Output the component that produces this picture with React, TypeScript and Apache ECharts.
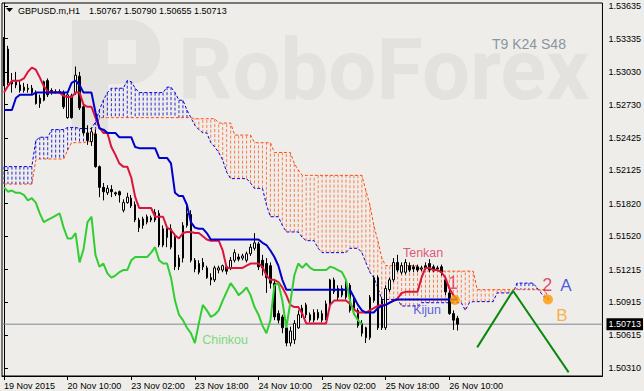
import React, { useEffect, useRef } from "react";
import * as echarts from "echarts";

const symbolTitle = "GBPUSD.m,H1";
const settingsText = "T9 K24 S48";
const xTickLabels = ["19 Nov 2015", "20 Nov 10:00", "23 Nov 02:00", "23 Nov 18:00", "24 Nov 10:00", "25 Nov 02:00", "25 Nov 18:00", "26 Nov 10:00"];
const yTickValues = [1.53635, 1.53335, 1.5303, 1.5273, 1.52425, 1.52125, 1.5182, 1.5152, 1.51215, 1.50915, 1.50615, 1.5031];

// [open, close, low, high]
const candles = [
  [1.5293, 1.5325, 1.5290, 1.5335], [1.5324, 1.5293, 1.5291, 1.5327], [1.5295, 1.5292, 1.5284, 1.5302], [1.5294, 1.5291, 1.5288, 1.5303],
  [1.5291, 1.5286, 1.5284, 1.5295], [1.5286, 1.5289, 1.5284, 1.5293], [1.5288, 1.5287, 1.5284, 1.5292], [1.5288, 1.5284, 1.5282, 1.5291],
  [1.5284, 1.5274, 1.5273, 1.5286], [1.5274, 1.5279, 1.5270, 1.5282], [1.5277, 1.5294, 1.5276, 1.5295], [1.5295, 1.5282, 1.5280, 1.5297],
  [1.5286, 1.5284, 1.5282, 1.5288], [1.5284, 1.5285, 1.5283, 1.5287], [1.5285, 1.5284, 1.5283, 1.5287], [1.5284, 1.5271, 1.5269, 1.5286],
  [1.5261, 1.5282, 1.5260, 1.5284], [1.5281, 1.5261, 1.5260, 1.5283], [1.5284, 1.5300, 1.5282, 1.5308], [1.5299, 1.5270, 1.5268, 1.5303],
  [1.5271, 1.5247, 1.5245, 1.5273], [1.5247, 1.5240, 1.5236, 1.5254], [1.5239, 1.5248, 1.5235, 1.5252], [1.5246, 1.5216, 1.5215, 1.5250],
  [1.5216, 1.5197, 1.5188, 1.5217], [1.5197, 1.5193, 1.5185, 1.5201], [1.5192, 1.5196, 1.5190, 1.5199], [1.5195, 1.5193, 1.5188, 1.5199],
  [1.5192, 1.5191, 1.5189, 1.5193], [1.5193, 1.5190, 1.5183, 1.5194], [1.5176, 1.5183, 1.5174, 1.5186], [1.5183, 1.5188, 1.5182, 1.5192],
  [1.5187, 1.5180, 1.5178, 1.5190], [1.5181, 1.5167, 1.5165, 1.5184], [1.5167, 1.5160, 1.5156, 1.5169], [1.5162, 1.5168, 1.5159, 1.5170],
  [1.5165, 1.5170, 1.5163, 1.5172], [1.5169, 1.5167, 1.5165, 1.5171], [1.5167, 1.5174, 1.5165, 1.5177], [1.5173, 1.5144, 1.5142, 1.5176],
  [1.5144, 1.5159, 1.5142, 1.5162], [1.5159, 1.5151, 1.5142, 1.5162], [1.5142, 1.5159, 1.5140, 1.5163], [1.5151, 1.5124, 1.5121, 1.5155],
  [1.5124, 1.5132, 1.5121, 1.5135], [1.5132, 1.5162, 1.5128, 1.5165], [1.5162, 1.5173, 1.5160, 1.5181], [1.5172, 1.5130, 1.5128, 1.5176],
  [1.5130, 1.5122, 1.5119, 1.5132], [1.5127, 1.5119, 1.5117, 1.5130], [1.5128, 1.5124, 1.5121, 1.5132], [1.5123, 1.5114, 1.5113, 1.5125],
  [1.5114, 1.5112, 1.5107, 1.5118], [1.5112, 1.5123, 1.5110, 1.5125], [1.5121, 1.5123, 1.5118, 1.5125], [1.5121, 1.5125, 1.5119, 1.5126],
  [1.5124, 1.5120, 1.5117, 1.5125], [1.5123, 1.5130, 1.5121, 1.5133], [1.5130, 1.5137, 1.5128, 1.5140], [1.5133, 1.5131, 1.5129, 1.5136],
  [1.5132, 1.5134, 1.5130, 1.5136], [1.5130, 1.5136, 1.5128, 1.5138], [1.5136, 1.5142, 1.5134, 1.5145], [1.5141, 1.5146, 1.5139, 1.5155],
  [1.5145, 1.5124, 1.5121, 1.5147], [1.5130, 1.5123, 1.5116, 1.5135], [1.5127, 1.5114, 1.5100, 1.5132], [1.5125, 1.5109, 1.5104, 1.5128],
  [1.5109, 1.5078, 1.5075, 1.5112], [1.5081, 1.5075, 1.5072, 1.5084], [1.5078, 1.5068, 1.5063, 1.5080], [1.5068, 1.5054, 1.5051, 1.5070],
  [1.5054, 1.5065, 1.5051, 1.5069], [1.5057, 1.5072, 1.5053, 1.5075], [1.5068, 1.5080, 1.5067, 1.5084], [1.5086, 1.5080, 1.5077, 1.5089],
  [1.5089, 1.5080, 1.5077, 1.5091], [1.5075, 1.5080, 1.5073, 1.5082], [1.5075, 1.5082, 1.5073, 1.5085], [1.5082, 1.5077, 1.5075, 1.5085],
  [1.5075, 1.5081, 1.5073, 1.5084], [1.5077, 1.5090, 1.5075, 1.5093], [1.5090, 1.5112, 1.5089, 1.5113], [1.5101, 1.5112, 1.5099, 1.5114],
  [1.5104, 1.5096, 1.5093, 1.5107], [1.5098, 1.5104, 1.5096, 1.5107], [1.5096, 1.5109, 1.5094, 1.5111], [1.5107, 1.5084, 1.5082, 1.5109],
  [1.5093, 1.5084, 1.5080, 1.5095], [1.5084, 1.5070, 1.5068, 1.5086], [1.5072, 1.5063, 1.5060, 1.5075], [1.5068, 1.5059, 1.5054, 1.5069],
  [1.5059, 1.5096, 1.5057, 1.5098], [1.5093, 1.5114, 1.5091, 1.5116], [1.5114, 1.5068, 1.5066, 1.5116], [1.5093, 1.5068, 1.5066, 1.5096],
  [1.5068, 1.5104, 1.5066, 1.5107], [1.5103, 1.5112, 1.5101, 1.5114], [1.5112, 1.5128, 1.5110, 1.5132], [1.5128, 1.5121, 1.5119, 1.5135],
  [1.5119, 1.5125, 1.5117, 1.5128], [1.5119, 1.5128, 1.5117, 1.5131], [1.5125, 1.5121, 1.5119, 1.5128], [1.5124, 1.5122, 1.5119, 1.5126],
  [1.5124, 1.5121, 1.5119, 1.5126], [1.5122, 1.5123, 1.5120, 1.5125], [1.5125, 1.5123, 1.5121, 1.5128], [1.5127, 1.5121, 1.5119, 1.5131],
  [1.5124, 1.5121, 1.5119, 1.5126], [1.5123, 1.5122, 1.5120, 1.5125], [1.5124, 1.5119, 1.5116, 1.5126], [1.5112, 1.5101, 1.5098, 1.5114],
  [1.5100, 1.5081, 1.5080, 1.5103], [1.5081, 1.5075, 1.5066, 1.5084], [1.50767, 1.50713, 1.50655, 1.5079],
];

const tenkan = [
  1.5284, 1.5290, 1.5295, 1.5295, 1.5295, 1.5297, 1.5303, 1.5307, 1.5305, 1.5298,
  1.5290, 1.5285, 1.5284, 1.5284, 1.5284, 1.5281, 1.5280, 1.5280, 1.5284, 1.5284,
  1.5273, 1.5271, 1.5271, 1.5261, 1.5252, 1.5247, 1.5247, 1.5234, 1.5227, 1.5219,
  1.5216, 1.5216, 1.5206, 1.5188, 1.5178, 1.5178, 1.5178, 1.5178, 1.5170, 1.5170,
  1.5170, 1.5160, 1.5158, 1.5153, 1.5150, 1.5155, 1.5156, 1.5156, 1.5155, 1.5155,
  1.5152, 1.5149, 1.5148, 1.5148, 1.5148, 1.5139, 1.5123, 1.5123, 1.5123, 1.5123,
  1.5123, 1.5125, 1.5127, 1.5127, 1.5127, 1.5124, 1.5116, 1.5112, 1.5112, 1.5110,
  1.5105, 1.5098, 1.5089, 1.5087, 1.5087, 1.5081, 1.5072, 1.5072, 1.5072, 1.5072,
  1.5072, 1.5072, 1.5089, 1.5093, 1.5093, 1.5093, 1.5093, 1.5090, 1.5085, 1.5082,
  1.5082, 1.5082, 1.5084, 1.5086, 1.5088, 1.5089, 1.5089, 1.5091, 1.5093, 1.5095,
  1.5100, 1.5101, 1.5101, 1.5101, 1.5101, 1.5114, 1.5123, 1.5123, 1.5121, 1.5121,
  1.5119, 1.5114, 1.5104, 1.5098, 1.5094,
];

const kijun = [
  1.5268, 1.5268, 1.5268, 1.5279, 1.5282, 1.5282, 1.5282, 1.5282, 1.5284, 1.5284,
  1.5284, 1.5284, 1.5284, 1.5284, 1.5284, 1.5284, 1.5284, 1.5293, 1.5295, 1.5291,
  1.5284, 1.5284, 1.5284, 1.5266, 1.5251, 1.5250, 1.5247, 1.5247, 1.5247, 1.5243,
  1.5243, 1.5243, 1.5243, 1.5234, 1.5233, 1.5233, 1.5233, 1.5233, 1.5233, 1.5224,
  1.5224, 1.5224, 1.5219, 1.5192, 1.5189, 1.5189, 1.5181, 1.5165, 1.5160, 1.5159,
  1.5159, 1.5155, 1.5149, 1.5149, 1.5149, 1.5149, 1.5149, 1.5149, 1.5149, 1.5149,
  1.5149, 1.5149, 1.5149, 1.5149, 1.5149, 1.5146, 1.5144, 1.5139, 1.5133, 1.5125,
  1.5112, 1.5103, 1.5103, 1.5103, 1.5103, 1.5103, 1.5103, 1.5103, 1.5103, 1.5103,
  1.5103, 1.5103, 1.5103, 1.5103, 1.5103, 1.5103, 1.5103, 1.5103, 1.5096, 1.5089,
  1.5084, 1.5082, 1.5082, 1.5082, 1.5086, 1.5088, 1.5089, 1.5091, 1.5093, 1.5094,
  1.5094, 1.5094, 1.5094, 1.5094, 1.5094, 1.5094, 1.5094, 1.5094, 1.5094, 1.5094,
  1.5094, 1.5094, 1.5094, 1.5094, 1.5094,
];

const chinkou = [
  1.5197, 1.5193, 1.5194, 1.5192, 1.5192, 1.5190, 1.5185, 1.5187, 1.5183, 1.5173,
  1.5165, 1.5167, 1.5169, 1.5171, 1.5173, 1.5160, 1.5150, 1.5150, 1.5155, 1.5128,
  1.5140, 1.5165, 1.5170, 1.5135, 1.5124, 1.5127, 1.5118, 1.5114, 1.5116, 1.5119,
  1.5121, 1.5121, 1.5130, 1.5133, 1.5133, 1.5133, 1.5133, 1.5137, 1.5142, 1.5130,
  1.5127, 1.5127, 1.5114, 1.5093, 1.5080, 1.5075, 1.5068, 1.5063, 1.5054, 1.5072,
  1.5089, 1.5084, 1.5078, 1.5080, 1.5084, 1.5093, 1.5101, 1.5109, 1.5104, 1.5098,
  1.5101, 1.5105, 1.5098, 1.5087, 1.5080, 1.5070, 1.5063, 1.5075, 1.5107, 1.5109,
  1.5093, 1.5068, 1.5091, 1.5116, 1.5127, 1.5123, 1.5127, 1.5123, 1.5121, 1.5121,
  1.5121, 1.5121, 1.5124, 1.5123, 1.5121, 1.5119, 1.5112, 1.5093, 1.5081, 1.5075,
  1.5071,
];

const senkouA = [
  1.5216, 1.5216, 1.5216, 1.5216, 1.5216, 1.5216, 1.5216, 1.5216, 1.5240, 1.5243,
  1.5243, 1.5243, 1.5250, 1.5250, 1.5250, 1.5250, 1.5252, 1.5252, 1.5252, 1.5251,
  1.5251, 1.5251, 1.5251, 1.5257, 1.5268, 1.5277, 1.5284, 1.5288, 1.5288, 1.5288,
  1.5288, 1.5295, 1.5294, 1.5288, 1.5284, 1.5284, 1.5284, 1.5284, 1.5284, 1.5284,
  1.5284, 1.5289, 1.5289, 1.5284, 1.5277, 1.5277, 1.5268, 1.5261, 1.5254, 1.5250,
  1.5247, 1.5247, 1.5238, 1.5234, 1.5229, 1.5222, 1.5211, 1.5205, 1.5205, 1.5205,
  1.5205, 1.5205, 1.5201, 1.5196, 1.5196, 1.5196, 1.5181, 1.5170, 1.5170, 1.5170,
  1.5162, 1.5156, 1.5156, 1.5156, 1.5156, 1.5151, 1.5148, 1.5148, 1.5148, 1.5141,
  1.5137, 1.5137, 1.5137, 1.5137, 1.5137, 1.5137, 1.5137, 1.5141, 1.5141, 1.5141,
  1.5137, 1.5128, 1.5119, 1.5114, 1.5105, 1.5094, 1.5094, 1.5094, 1.5094, 1.5094,
  1.5088, 1.5088, 1.5088, 1.5088, 1.5088, 1.5091, 1.5091, 1.5091, 1.5091, 1.5091,
  1.5091, 1.5091, 1.5091, 1.5091, 1.5091, 1.5091, 1.5084, 1.5091, 1.5092, 1.5092,
  1.5092, 1.5092, 1.5092, 1.5092, 1.5100, 1.5100, 1.5100, 1.5100, 1.5100, 1.5109,
  1.5109, 1.5109, 1.5109, 1.5109, 1.5105, 1.5100, 1.5096, 1.5094,
];

const senkouB = [
  1.5200, 1.5200, 1.5200, 1.5200, 1.5200, 1.5200, 1.5200, 1.5200, 1.5222, 1.5223,
  1.5223, 1.5223, 1.5223, 1.5223, 1.5223, 1.5223, 1.5231, 1.5238, 1.5238, 1.5238,
  1.5238, 1.5239, 1.5239, 1.5250, 1.5261, 1.5261, 1.5261, 1.5261, 1.5261, 1.5261,
  1.5261, 1.5261, 1.5261, 1.5261, 1.5261, 1.5261, 1.5261, 1.5261, 1.5261, 1.5261,
  1.5261, 1.5261, 1.5261, 1.5261, 1.5261, 1.5261, 1.5261, 1.5261, 1.5260, 1.5260,
  1.5260, 1.5260, 1.5260, 1.5260, 1.5256, 1.5256, 1.5256, 1.5256, 1.5245, 1.5245,
  1.5245, 1.5245, 1.5245, 1.5238, 1.5238, 1.5238, 1.5238, 1.5238, 1.5229, 1.5229,
  1.5229, 1.5229, 1.5229, 1.5219, 1.5213, 1.5208, 1.5208, 1.5208, 1.5208, 1.5208,
  1.5208, 1.5208, 1.5208, 1.5208, 1.5208, 1.5208, 1.5208, 1.5208, 1.5208, 1.5208,
  1.5208, 1.5194, 1.5181, 1.5162, 1.5148, 1.5132, 1.5125, 1.5125, 1.5125, 1.5125,
  1.5125, 1.5125, 1.5125, 1.5125, 1.5125, 1.5120, 1.5120, 1.5120, 1.5120, 1.5120,
  1.5120, 1.5120, 1.5120, 1.5120, 1.5120, 1.5120, 1.5120, 1.5120, 1.5120, 1.5103,
  1.5103, 1.5103, 1.5103, 1.5103, 1.5103, 1.5103, 1.5103, 1.5103, 1.5103, 1.5103,
  1.5103, 1.5103, 1.5103, 1.5103, 1.5103, 1.5103, 1.5103, 1.5094,
];

// forecast zig-zag: [bar index, price]
const forecastPath = [[119, 1.505], [128, 1.5102], [142, 1.5027]];
// tenkan/kijun cross marks: [bar index, price]
const crossMarks = [[113.4, 1.50935], [136.8, 1.5094]];
// text notes
const noteTexts = ["Tenkan", "Kijun", "Chinkou", "1", "2", "A", "B"];
const noteX = [105.4, 106.4, 55.6, 112.9, 136.6, 141.3, 140.3];
const noteY = [1.51365, 1.50843, 1.50567, 1.5109, 1.5107, 1.5107, 1.50797];
const noteColors = ["#DC2D5A", "#3434DE", "#5CD65C", "#E0305A", "#D81E50", "#2233DD", "#FFA020"];
const noteSizes = [12.5, 12.5, 12.5, 18, 18, 17, 17];

const categoryCount = 151;
const categories = Array.from({ length: categoryCount }, (_, i) => String(i));

const FONT = "'Liberation Sans', Arial, sans-serif";
const BG = "#EEEDEA";
const WM = "#E3E2DF";

function buildOption() {
  const last = candles[candles.length - 1];
  const lastClose = last[1];
  const tickShown = (i: number) => i % 16 === 0 && i / 16 < xTickLabels.length;
  const cloudData = senkouA.map((a, i) => [i, a, senkouB[i]]);
  return {
    animation: false,
    backgroundColor: "transparent",
    grid: { left: 2, right: 40, top: 3, bottom: 15, show: true, borderColor: "#000", borderWidth: 1, backgroundColor: "transparent" },
    xAxis: [
      {
        type: "category",
        data: categories,
        boundaryGap: true,
        axisLine: { show: true, lineStyle: { color: "#000", width: 1 } },
        axisTick: { show: true, interval: (i: number) => tickShown(i), alignWithLabel: true, length: 4, lineStyle: { color: "#000" } },
        axisLabel: {
          interval: (i: number) => tickShown(i),
          formatter: (_v: string, i: number) => xTickLabels[i / 16] ?? "",
          align: "left",
          color: "#000",
          fontSize: 9,
          fontFamily: FONT,
          margin: 5,
        },
        splitLine: { show: false },
      },
      { type: "value", min: -0.5, max: categoryCount - 0.5, show: false, gridIndex: 0 },
    ],
    yAxis: {
      type: "value",
      position: "right",
      min: 1.50237,
      max: 1.53663,
      splitLine: { show: false },
      axisLine: { show: true, lineStyle: { color: "#000", width: 1 } },
      axisTick: { show: true, length: 4, lineStyle: { color: "#000" }, customValues: yTickValues },
      axisLabel: { customValues: yTickValues, formatter: (v: number) => v.toFixed(5), color: "#000", fontSize: 9, fontFamily: FONT, margin: 6 },
    },
    graphic: [
      { type: "text", z: 0, x: 178, y: 112, style: { text: "RoboForex", fill: WM, fontSize: 85, fontWeight: "bold", fontFamily: "Roboto, sans-serif", verticalAlign: "bottom" } },
      { type: "rect", z: 0, shape: { x: 72, y: 20, width: 36, height: 110 }, style: { fill: WM } },
      { type: "rect", z: 0, shape: { x: 72, y: 20, width: 88, height: 64, r: [0, 30, 30, 0] }, style: { fill: WM } },
      { type: "rect", z: 0, shape: { x: 108, y: 40, width: 28, height: 24 }, style: { fill: BG } },
      { type: "polygon", z: 10, shape: { points: [[6, 8], [13, 8], [9.5, 12]] }, style: { fill: "#000" } },
      { type: "text", z: 10, x: 18, y: 11, style: { text: symbolTitle, fill: "#000", fontSize: 9, fontFamily: FONT, verticalAlign: "middle" } },
      {
        type: "text", z: 10, x: 89, y: 11,
        style: { text: [last[0], last[3], last[2], last[1]].map((v) => v.toFixed(5)).join(" "), fill: "#000", fontSize: 9, fontFamily: FONT, verticalAlign: "middle" },
      },
      { type: "text", z: 10, x: 492, y: 44, style: { text: settingsText, fill: "#8A95A2", fontSize: 14, fontFamily: FONT, verticalAlign: "middle" } },
    ],
    series: [
      {
        type: "custom",
        name: "cloud",
        z: 1,
        clip: true,
        data: cloudData,
        renderItem: (_p: any, api: any) => {
          const i = api.value(0);
          const a = api.value(1);
          const b = api.value(2);
          const pa = api.coord([i, a]);
          const pb = api.coord([i, b]);
          return {
            type: "line",
            shape: { x1: pa[0], y1: pa[1], x2: pb[0], y2: pb[1] },
            style: { stroke: a >= b ? "#2A2AD0" : "#FF7A45", lineWidth: 1, lineDash: [3, 2] },
          };
        },
      },
      { type: "line", name: "Senkou A", z: 2, data: senkouA, showSymbol: false, lineStyle: { color: "#0000DD", width: 1, type: [3, 2] } },
      { type: "line", name: "Senkou B", z: 2, data: senkouB, showSymbol: false, lineStyle: { color: "#FF4A10", width: 1, type: [3, 2] } },
      {
        type: "line", name: "Bid", z: 2, xAxisIndex: 1, showSymbol: false, silent: true,
        data: [[-0.5, lastClose], [categoryCount - 0.5, lastClose]],
        lineStyle: { color: "#7D8790", width: 1 },
        endLabel: {
          show: true, formatter: lastClose.toFixed(5), backgroundColor: "#000", color: "#fff",
          fontSize: 9, fontFamily: FONT, padding: [2, 2, 1, 2], distance: 4,
        },
      },
      {
        type: "candlestick",
        name: "GBPUSD",
        z: 3,
        barWidth: 2,
        data: candles,
        itemStyle: { color: "#FFFFFF", color0: "#000000", borderColor: "#000000", borderColor0: "#000000", borderWidth: 1 },
      },
      { type: "line", name: "Tenkan", z: 4, data: tenkan, showSymbol: false, lineStyle: { color: "#DC143C", width: 2 } },
      { type: "line", name: "Kijun", z: 4, data: kijun, showSymbol: false, lineStyle: { color: "#0000CD", width: 2 } },
      { type: "line", name: "Chinkou", z: 4, data: chinkou, showSymbol: false, lineStyle: { color: "#32CD32", width: 2 } },
      { type: "line", name: "Forecast", z: 5, xAxisIndex: 1, data: forecastPath, showSymbol: false, lineStyle: { color: "#0A8A0A", width: 2 } },
      { type: "scatter", name: "Cross", z: 5, xAxisIndex: 1, data: crossMarks, symbolSize: 10, itemStyle: { color: "#FF9A00" } },
      {
        type: "scatter", name: "Notes", z: 6, xAxisIndex: 1, symbolSize: 0,
        data: noteTexts.map((t, k) => ({
          value: [noteX[k], noteY[k]],
          label: { show: true, position: "inside", formatter: t, color: noteColors[k], fontSize: noteSizes[k], fontFamily: FONT },
        })),
      },
    ],
  };
}

export default function App() {
  const ref = useRef<HTMLDivElement>(null);
  useEffect(() => {
    if (!ref.current) return;
    const chart = echarts.init(ref.current, null, { renderer: "svg" });
    chart.setOption(buildOption() as any);
    return () => chart.dispose();
  }, []);
  return <div ref={ref} style={{ position: "fixed", left: 0, top: 0, width: 644, height: 391, background: BG }} />;
}
